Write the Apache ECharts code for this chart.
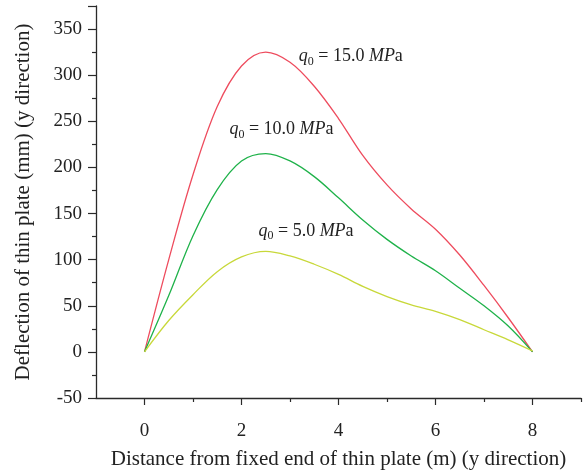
<!DOCTYPE html>
<html>
<head>
<meta charset="utf-8">
<script src="https://cdn.jsdelivr.net/npm/echarts@6/dist/echarts.min.js"></script>
<style>
  html, body { margin: 0; padding: 0; background: #fff; }
  #chart { width: 586px; height: 475px; }
</style>
</head>
<body>
<div id="chart"></div>
<script>
// Deflection of thin plate along y direction, three load levels

const xValues = [0, 0.5, 1, 1.5, 2, 2.5, 3, 3.5, 4, 4.5, 5, 5.5, 6, 6.5, 7, 7.5, 8];
const deflection15 = [0, 100, 192, 266, 310, 325, 314, 288, 253, 213, 181, 155, 133, 105, 72, 37, 0];
const deflection10 = [0, 61, 126, 176, 207, 215, 207, 190, 167, 143, 122, 104, 88, 69, 50, 28, 0];
const deflection5 = [0, 34, 62, 87, 103, 109, 104, 95, 84, 71, 60, 51, 44, 35, 24, 13, 1];
const loadLabels = ['15.0', '10.0', '5.0'];
const xTickLabels = [0, 2, 4, 6, 8];
const xMinorTicks = [1, 3, 5, 7, 9];

const FONT = '"Liberation Serif", "DejaVu Serif", serif';
const AXIS_COLOR = '#2a2a2a';
const colors = ['#ee4c5e', '#1fb24a', '#c8d83a'];

const chart = echarts.init(document.getElementById('chart'), null, { renderer: 'canvas' });

const toPairs = ys => xValues.map((x, i) => [x, ys[i]]);

function lineSeries(name, ys, color) {
  return {
    name: name,
    type: 'line',
    data: toPairs(ys),
    smooth: 0.35,
    showSymbol: false,
    symbol: 'none',
    animation: false,
    lineStyle: { color: color, width: 1.3 }
  };
}

const option = {
  animation: false,
  grid: { left: 96, right: 5, top: 6, bottom: 77 },
  xAxis: [
    {
      type: 'value',
      min: -1,
      max: 9,
      name: 'Distance from fixed end of thin plate (m) (y direction)',
      nameLocation: 'middle',
      nameGap: 51,
      nameTextStyle: { fontFamily: FONT, fontSize: 21, color: '#222' },
      axisLine: { show: true, onZero: false, lineStyle: { color: AXIS_COLOR, width: 1.3 } },
      axisTick: { show: true, customValues: xTickLabels, length: 7, lineStyle: { color: AXIS_COLOR, width: 1.2 } },
      axisLabel: { customValues: xTickLabels, fontFamily: FONT, fontSize: 19, color: '#222', margin: 24 },
      splitLine: { show: false }
    },
    {
      type: 'value',
      min: -1,
      max: 9,
      position: 'bottom',
      axisLine: { show: false, onZero: false },
      axisTick: { show: true, customValues: xMinorTicks, length: 4, lineStyle: { color: AXIS_COLOR, width: 1.2 } },
      axisLabel: { show: false },
      splitLine: { show: false }
    }
  ],
  yAxis: {
    type: 'value',
    min: -50,
    max: 375,
    interval: 50,
    name: 'Deflection of thin plate (mm) (y direction)',
    nameLocation: 'middle',
    nameGap: 62,
    nameTextStyle: { fontFamily: FONT, fontSize: 21, color: '#222' },
    axisLine: { show: true, onZero: false, lineStyle: { color: AXIS_COLOR, width: 1.3 } },
    axisTick: { show: true, length: 8, lineStyle: { color: AXIS_COLOR, width: 1.2 } },
    minorTick: { show: true, splitNumber: 2, length: 4, lineStyle: { color: AXIS_COLOR, width: 1.2 } },
    axisLabel: {
      fontFamily: FONT, fontSize: 19, color: '#222', margin: 14,
      formatter: v => (v % 50 === 0 ? String(v) : '')
    },
    splitLine: { show: false }
  },
  series: [
    lineSeries('q0 = 15.0 MPa', deflection15, colors[0]),
    lineSeries('q0 = 10.0 MPa', deflection10, colors[1]),
    lineSeries('q0 = 5.0 MPa', deflection5, colors[2])
  ]
};

chart.setOption(option);

// Curve annotations anchored in data space (left edge, vertical middle)
const labelAnchors = [[3.18, 320], [1.75, 241], [2.35, 131]];

const richStyles = {
  i: { fontFamily: FONT, fontSize: 18, fontStyle: 'italic', fill: '#222' },
  s: { fontFamily: FONT, fontSize: 12, fill: '#222', padding: [10, 0, 0, 0] },
  n: { fontFamily: FONT, fontSize: 18, fill: '#222' }
};

chart.setOption({
  graphic: labelAnchors.map((anchor, k) => {
    const p = chart.convertToPixel({ xAxisIndex: 0, yAxisIndex: 0 }, anchor);
    return {
      type: 'text',
      x: p[0],
      y: p[1],
      silent: true,
      style: {
        text: '{i|q}{s|0}{n| = ' + loadLabels[k] + ' }{i|MP}{n|a}',
        rich: richStyles,
        align: 'left',
        verticalAlign: 'middle'
      }
    };
  })
});
</script>
</body>
</html>
